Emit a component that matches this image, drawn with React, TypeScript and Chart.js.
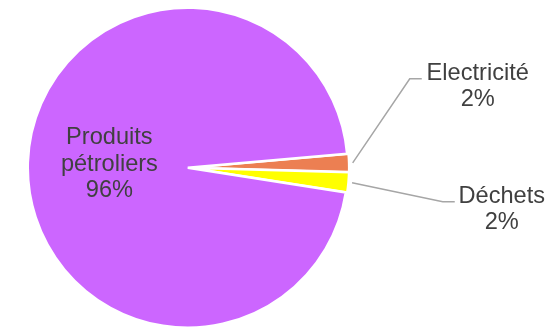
import React, { useEffect, useRef } from "react";
import { Chart, registerables } from "chart.js";

Chart.register(...registerables);

const categories = ["Electricité", "Déchets", "Produits pétroliers"];
const labelLines = [["Electricité"], ["Déchets"], ["Produits", "pétroliers"]];
const values = [1.83, 2.03, 96.14];
const colors = ["#EC7F52", "#FFFF00", "#CC66FF"];
const offsets = [3, 3, 0];

const FONT = "23.6px 'Liberation Sans', Arial, sans-serif";
const TEXT_COLOR = "#404040";

const labelPlugin = {
  id: "pieLabels",
  afterDraw(chart: any) {
    const ctx = chart.ctx;
    const meta = chart.getDatasetMeta(0);
    const total = values.reduce((a, b) => a + b, 0);
    ctx.save();
    ctx.font = FONT;
    ctx.fillStyle = TEXT_COLOR;
    ctx.textAlign = "center";
    ctx.textBaseline = "alphabetic";
    const lh = 26.5;
    meta.data.forEach((arc: any, i: number) => {
      const { x, y, startAngle, endAngle, outerRadius } = arc.getProps(
        ["x", "y", "startAngle", "endAngle", "outerRadius"],
        true
      );
      const mid = (startAngle + endAngle) / 2;
      const pct = Math.round((values[i] / total) * 100) + "%";
      const lines = [...labelLines[i], pct];
      if (i === 2) {
        const cx = x + Math.cos(mid) * outerRadius * 0.49;
        const cy = y + Math.sin(mid) * outerRadius * 0.49;
        const firstBase = cy - 21;
        lines.forEach((t, k) => ctx.fillText(t, cx, firstBase + k * lh));
      } else {
        const sx = x + Math.cos(mid) * (outerRadius + 5);
        const sy = y + Math.sin(mid) * (outerRadius + 5);
        const elbow = i === 0 ? { dx: 222, dy: -89 } : { dx: 255, dy: 34 };
        const ex = x + elbow.dx;
        const ey = y + elbow.dy;
        const hx = ex + 12;
        ctx.strokeStyle = "#A6A6A6";
        ctx.lineWidth = 1.5;
        ctx.beginPath();
        ctx.moveTo(sx, sy);
        ctx.lineTo(ex, ey);
        ctx.lineTo(hx, ey);
        ctx.stroke();
        const tx = i === 0 ? x + 290 : x + 314;
        const base = ey + 1;
        lines.forEach((t, k) => ctx.fillText(t, tx, base + k * lh));
      }
    });
    ctx.restore();
  },
};

export default function App() {
  const ref = useRef<HTMLCanvasElement>(null);
  useEffect(() => {
    document.body.style.margin = "0";
    const chart = new Chart(ref.current!, {
      type: "pie",
      data: {
        labels: categories,
        datasets: [
          {
            data: values,
            backgroundColor: colors,
            borderColor: "#FFFFFF",
            borderWidth: 2.5,
            offset: offsets,
          },
        ],
      },
      options: {
        responsive: false,
        animation: false,
        rotation: 85,
        layout: { padding: { left: 25, top: 5, right: 203.5, bottom: 0.5 } },
        plugins: {
          legend: { display: false },
          tooltip: { enabled: false },
        },
      },
      plugins: [labelPlugin],
    });
    return () => chart.destroy();
  }, []);
  return (
    <div style={{ position: "absolute", left: 0, top: 0, width: 554, height: 331, background: "#fff" }}>
      <canvas ref={ref} width={554} height={331} />
    </div>
  );
}
